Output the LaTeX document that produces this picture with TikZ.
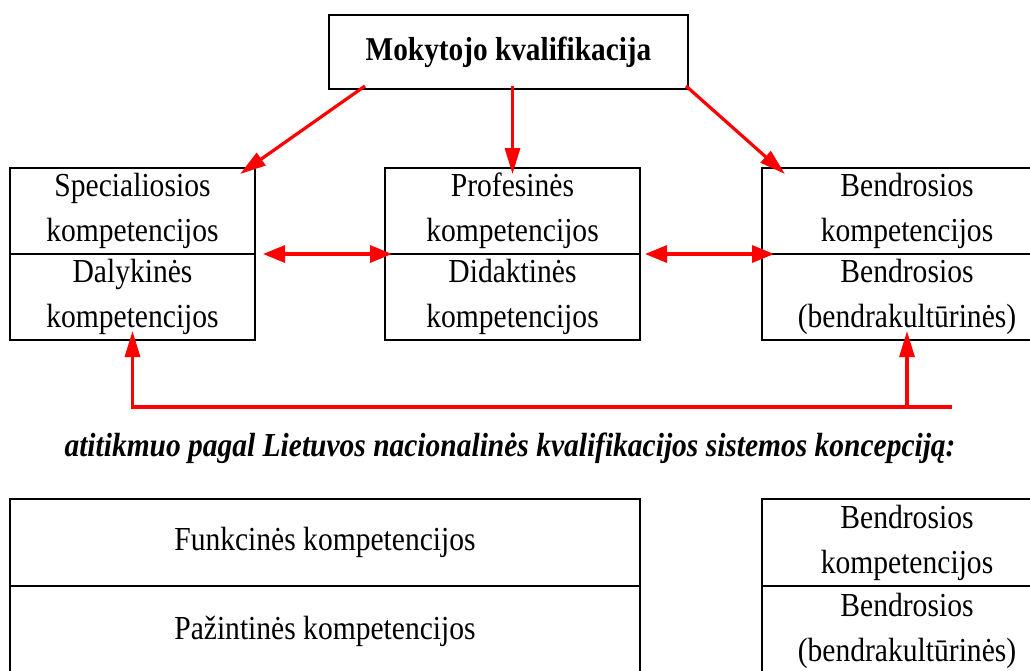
\documentclass[tikz,border=0pt]{standalone}
\usepackage{fontspec}
\setmainfont[FakeStretch=0.88]{Liberation Serif}
\usetikzlibrary{arrows.meta, positioning, calc}
\tikzset{
  halfbox/.style={draw, line width=1.6pt, align=center, inner sep=0pt, outer sep=0pt,
    minimum height=86pt, font=\fontsize{33.6}{45}\selectfont},
  titlebox/.style={draw, line width=1.6pt, align=center, inner sep=0pt, outer sep=0pt,
    minimum height=74pt, minimum width=359pt, font=\fontsize{33.3}{36}\selectfont\bfseries},
  note/.style={font=\fontsize{33.5}{36}\selectfont\bfseries\itshape},
  arrow/.style={-{Triangle[length=26pt, width=15pt]}, red, line width=3.2pt},
  dblarrow/.style={{Triangle[length=22pt, width=17pt]}-{Triangle[length=22pt, width=17pt]}, red, line width=3.2pt}
}

\begin{document}
\begin{tikzpicture}[x=1pt, y=-1pt]
    \useasboundingbox (0,0) rectangle (1030,670);
    \node[titlebox] (top) at (508.5,52) {Mokytojo kvalifikacija};
    % upper row
    \node[halfbox, minimum width=245pt] (spec) at (132.5,211) {Specialiosios\\kompetencijos};
    \node[halfbox, minimum width=245pt, below=0pt of spec] (dal) {Dalykinės\\kompetencijos};
    \node[halfbox, minimum width=255pt] (prof) at (512.5,211) {Profesinės\\kompetencijos};
    \node[halfbox, minimum width=255pt, below=0pt of prof] (did) {Didaktinės\\kompetencijos};
    \node[halfbox, minimum width=290pt] (bend) at (907,211) {Bendrosios\\kompetencijos};
    \node[halfbox, minimum width=290pt, below=0pt of bend] (bendb) {Bendrosios\\(bendrakultūrinės)};
    \draw[arrow] ([xshift=36pt, yshift=3pt]top.south west) -- ([xshift=-15pt, yshift=-6pt]spec.north east);
    \draw[arrow] ([yshift=3pt]top.south -| prof.north) -- ([yshift=-6pt]prof.north);
    \draw[arrow] ([xshift=-2pt, yshift=3pt]top.south east) -- ([xshift=23pt, yshift=-6pt]bend.north west);
    \draw[dblarrow] ([xshift=8pt]spec.south east) -- ([xshift=7pt]prof.south west);
    \draw[dblarrow] ([xshift=5pt]prof.south east) -- ([xshift=12pt]bend.south west);
    % feedback line
    \coordinate (fbend) at (952,407);
    \draw[arrow, line join=miter] (fbend) -| ([yshift=9pt]dal.south);
    \draw[arrow] (bendb.south |- fbend) -- ([yshift=9pt]bendb.south);
    \node[note] (lnk) at (510,448) {atitikmuo pagal Lietuvos nacionalinės kvalifikacijos sistemos koncepciją:};
    % lower row
    \node[halfbox, minimum width=630pt, minimum height=87pt] (funk) at (325,542.5) {Funkcinės kompetencijos};
    \node[halfbox, minimum width=630pt, minimum height=90pt, below=0pt of funk] (paz) {Pažintinės kompetencijos};
    \node[halfbox, minimum width=290pt, minimum height=87pt] (bendc) at (907,542.5) {Bendrosios\\kompetencijos};
    \node[halfbox, minimum width=290pt, minimum height=90pt, below=0pt of bendc] (bendd) {Bendrosios\\(bendrakultūrinės)};
\end{tikzpicture}
\end{document}
